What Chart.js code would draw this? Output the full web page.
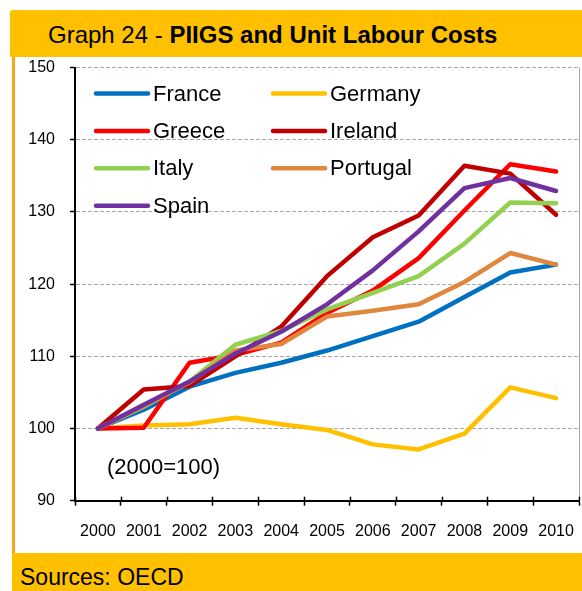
<!DOCTYPE html>
<html>
<head>
<meta charset="utf-8">
<script src="https://cdn.jsdelivr.net/npm/chart.js@4"></script>
<style>
  body { margin: 0; background: #fff; font-family: Arial, "Liberation Sans", sans-serif; }
  #frame { position: absolute; left: 12px; top: 10px; width: 570px; height: 581px;
           border-left: 3px solid #F9A61B; box-sizing: border-box; }
  #head { position: absolute; left: 10px; top: 10px; width: 572px; height: 47px; background: #FFC000;
          border-top-left-radius: 3px; font-size: 24px; line-height: 49px; padding-left: 38px;
          box-sizing: border-box; color: #000; }
  #foot { position: absolute; left: 12px; top: 553px; width: 570px; height: 38px; background: #FFC000;
          font-size: 23px; line-height: 48px; padding-left: 8px; box-sizing: border-box; color: #000; }
  #chartWrap { position: absolute; left: 15px; top: 57px; width: 567px; height: 496px; }
</style>
</head>
<body>
<div id="frame"></div>
<div id="head">Graph 24 - <b>PIIGS and Unit Labour Costs</b></div>
<div id="chartWrap"><canvas id="chartULC" width="567" height="496"></canvas></div>
<div id="foot">Sources: OECD</div>
<script>
// Unit labour costs, 2000 = 100
const years    = ['2000', '2001', '2002', '2003', '2004', '2005', '2006', '2007', '2008', '2009', '2010'];
const france   = [100, 102.6, 105.8, 107.7, 109.1, 110.8, 112.8, 114.8, 118.2, 121.6, 122.7];
const germany  = [100, 100.4, 100.6, 101.5, 100.6, 99.8, 97.8, 97.1, 99.3, 105.7, 104.2];
const greece   = [100, 100.1, 109.1, 110.2, 111.9, 116.0, 119.1, 123.6, 130.2, 136.6, 135.6];
const ireland  = [100, 105.4, 105.9, 110.0, 114.1, 121.1, 126.5, 129.5, 136.4, 135.3, 129.6];
const italy    = [100, 103.0, 106.5, 111.6, 113.5, 116.5, 118.8, 121.1, 125.6, 131.3, 131.2];
const portugal = [100, 103.1, 106.4, 110.8, 111.7, 115.5, 116.3, 117.2, 120.3, 124.3, 122.7];
const spain    = [100, 103.3, 106.5, 110.4, 113.4, 117.2, 121.9, 127.3, 133.3, 134.7, 132.9];
const yTicks   = [90, 100, 110, 120, 130, 140, 150];

const FONT = 'Arial, "Liberation Sans", sans-serif';

function serie(label, data, color, order) {
    return {
        label: label,
        data: data,
        borderColor: color,
        backgroundColor: color,
        borderWidth: 4.5,
        borderCapStyle: 'round',
        borderJoinStyle: 'round',
        pointRadius: 0,
        tension: 0,
        fill: false,
        order: order
    };
}

// legend in two columns + "(2000=100)" note + inner x ticks + right border
const extras = {
    id: 'extras',
    afterDraw(chart) {
        const ctx = chart.ctx;
        const a = chart.chartArea;
        ctx.save();

        // right border of plot
        ctx.strokeStyle = '#A6A6A6';
        ctx.lineWidth = 1;
        ctx.beginPath();
        ctx.moveTo(a.right + 0.5, a.top);
        ctx.lineTo(a.right + 0.5, a.bottom);
        ctx.stroke();

        // ticks poking up above the x axis
        ctx.strokeStyle = '#000';
        ctx.lineWidth = 1.5;
        const step = (a.right - a.left) / years.length;
        for (let i = 0; i <= years.length; i++) {
            const px = Math.round(a.left + i * step) + 0.5;
            ctx.beginPath();
            ctx.moveTo(px, a.bottom - 4);
            ctx.lineTo(px, a.bottom);
            ctx.stroke();
        }

        // legend
        ctx.font = '22px ' + FONT;
        ctx.textBaseline = 'middle';
        ctx.fillStyle = '#000';
        chart.data.datasets.forEach(function(ds, i) {
            const col = i % 2, row = Math.floor(i / 2);
            const lx = a.left + 21 + col * 177;
            const ly = a.top + 26 + row * 37.4;
            ctx.strokeStyle = ds.borderColor;
            ctx.lineWidth = 4.5;
            ctx.lineCap = 'round';
            ctx.beginPath();
            ctx.moveTo(lx, ly);
            ctx.lineTo(lx + 52, ly);
            ctx.stroke();
            ctx.fillText(ds.label, lx + 57, ly + 1);
        });

        ctx.fillText('(2000=100)', a.left + 32, a.bottom - 33);
        ctx.restore();
    }
};

const ctx = document.getElementById('chartULC').getContext('2d');

new Chart(ctx, {
    type: 'line',
    data: {
        labels: years,
        datasets: [
            serie('France',   france,   '#0070C0', 6),
            serie('Germany',  germany,  '#FFC000', 5),
            serie('Greece',   greece,   '#FF0000', 4),
            serie('Ireland',  ireland,  '#C00000', 3),
            serie('Italy',    italy,    '#92D050', 2),
            serie('Portugal', portugal, '#E0873E', 1),
            serie('Spain',    spain,    '#7030A0', 0)
        ]
    },
    options: {
        responsive: false,
        animation: false,
        devicePixelRatio: 1,
        layout: { padding: { top: 10.5, right: 3, bottom: 0, left: 0 } },
        plugins: {
            legend: { display: false },
            tooltip: { enabled: false }
        },
        scales: {
            x: {
                offset: true,
                grid: {
                    offset: true,
                    drawOnChartArea: false,
                    tickLength: 5,
                    tickColor: '#000',
                    tickWidth: 1.5
                },
                border: { color: '#000', width: 2 },
                ticks: {
                    color: '#000',
                    font: { family: FONT, size: 16 },
                    padding: 16,
                    maxRotation: 0
                },
                afterFit: function(s) {
                    s.height = 496 - 10.5 - 433.2;
                    s.paddingLeft = 0;
                    s.paddingRight = 0;
                }
            },
            y: {
                min: 90,
                max: 150,
                afterBuildTicks: function(s) { s.ticks = yTicks.map(v => ({ value: v })); },
                grid: {
                    color: function(c) { return c.tick && c.tick.value === 90 ? 'rgba(0,0,0,0)' : '#A6A6A6'; },
                    lineWidth: 1,
                    tickLength: 5,
                    tickColor: '#000',
                    tickWidth: 1.5
                },
                border: { color: '#000', width: 2, dash: [4, 2] },
                ticks: {
                    color: '#000',
                    font: { family: FONT, size: 16 },
                    padding: 15
                },
                afterFit: function(s) {
                    s.width = 60;
                    s.paddingTop = 0;
                    s.paddingBottom = 0;
                }
            }
        }
    },
    plugins: [extras]
});
</script>
</body>
</html>
